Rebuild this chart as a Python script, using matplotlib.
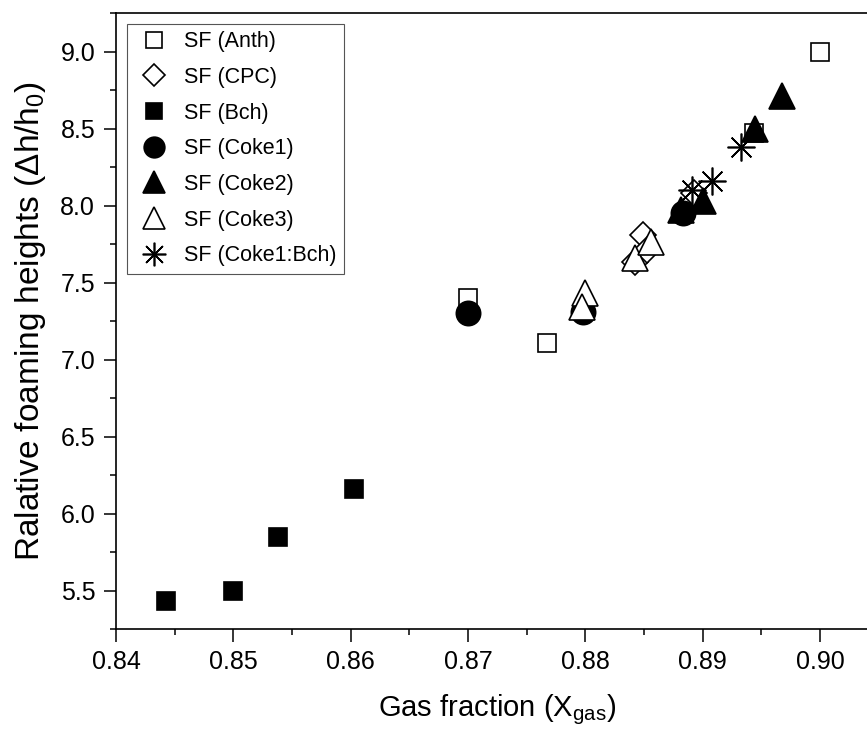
import numpy as np
import matplotlib
matplotlib.use("Agg")
import matplotlib.pyplot as plt

plt.rcParams['font.family'] = ['Liberation Sans', 'DejaVu Sans']
plt.rcParams['mathtext.fontset'] = 'custom'
plt.rcParams['mathtext.rm'] = 'Liberation Sans'
plt.rcParams['mathtext.default'] = 'regular'

# data
anth_x = [0.8700, 0.8767, 0.8944, 0.9000]
anth_y = [7.40, 7.11, 8.47, 9.00]
cpc_x = [0.8842, 0.8849, 0.8853, 0.8893]
cpc_y = [7.63, 7.81, 7.71, 8.08]
bch_x = [0.8443, 0.8500, 0.8538, 0.8603]
bch_y = [5.43, 5.50, 5.85, 6.16]
coke1_x = [0.8700, 0.8798, 0.8883]
coke1_y = [7.30, 7.31, 7.95]
coke2_x = [0.8882, 0.8900, 0.8945, 0.8968]
coke2_y = [7.97, 8.03, 8.50, 8.71]
coke3_x = [0.8800, 0.8797, 0.8842, 0.8856]
coke3_y = [7.43, 7.34, 7.66, 7.76]
mix_x = [0.8891, 0.8908, 0.8933]
mix_y = [8.10, 8.16, 8.38]

series = [
    ("SF (Anth)", anth_x, anth_y, 's', 'white', 13.5),
    ("SF (CPC)", cpc_x, cpc_y, 'D', 'white', 13.5),
    ("SF (Bch)", bch_x, bch_y, 's', 'black', 13.5),
    ("SF (Coke1)", coke1_x, coke1_y, 'o', 'black', 17.5),
    ("SF (Coke2)", coke2_x, coke2_y, '^', 'black', 19),
    ("SF (Coke3)", coke3_x, coke3_y, '^', 'white', 19),
    ("SF (Coke1:Bch)", mix_x, mix_y, (8, 2, 0), 'black', 20),
]

fig = plt.figure(figsize=(8.67, 7.31), dpi=100)
ax = fig.add_axes([0.1338, 0.1395, 0.8795, 0.8427])

for lab, xs, ys, mk, fc, ms in series:
    ax.plot(xs, ys, linestyle='none', marker=mk, markersize=ms,
            markerfacecolor=fc, markeredgecolor='black', markeredgewidth=1.2,
            color='black', label=lab)

ax.set_xlim(0.84, 0.905)
ax.set_ylim(5.25, 9.25)
ax.set_xticks(np.arange(0.84, 0.9001, 0.01))
ax.set_xticks(np.arange(0.845, 0.905, 0.01), minor=True)
ax.set_yticks(np.arange(5.5, 9.01, 0.5))
ax.set_yticks(np.arange(5.25, 9.26, 0.5), minor=True)
ax.xaxis.set_major_formatter(matplotlib.ticker.FormatStrFormatter('%.2f'))
ax.yaxis.set_major_formatter(matplotlib.ticker.FormatStrFormatter('%.1f'))
ax.tick_params(which='major', direction='out', length=9, width=1.1, labelsize=18, pad=6)
ax.tick_params(which='minor', direction='out', length=4.5, width=1.1)
for s in ax.spines.values():
    s.set_linewidth(1.2)

ax.set_xlabel("Gas fraction (X$_{gas}$)", fontsize=21, labelpad=13)
ax.set_ylabel("Ralative foaming heights (\u0394h/h$_0$)", fontsize=24, labelpad=9)

leg = ax.legend(loc='upper left', fontsize=15.5, markerscale=0.85, frameon=True,
                fancybox=False, edgecolor='#555555', framealpha=1,
                borderaxespad=0.5, handletextpad=0.5, handlelength=1.8,
                labelspacing=0.68, borderpad=0.35)
leg.get_frame().set_linewidth(0.8)

fig.savefig("out.png", dpi=100)
